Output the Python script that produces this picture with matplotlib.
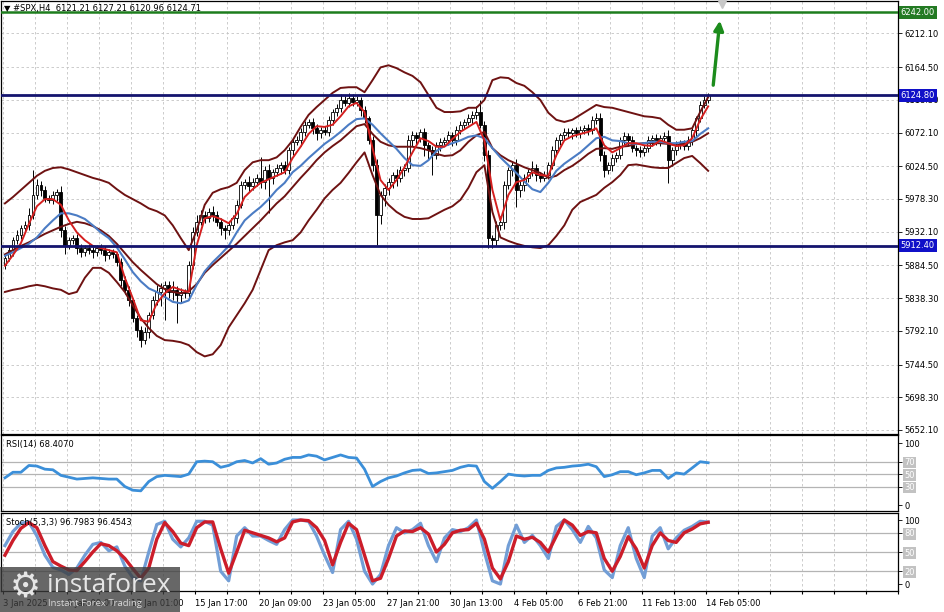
import numpy as np
import matplotlib
matplotlib.use("Agg")
import matplotlib.pyplot as plt
from matplotlib.patches import Rectangle

# ---- values: #SPX H4, 3 Jan - 14 Feb 2025 ----
closes = [
    5895, 5906, 5920, 5927, 5937, 5941, 5955, 5984, 5998, 5991,
    5980, 5977, 5984, 5988, 5934, 5913, 5920, 5923, 5909, 5903,
    5909, 5906, 5903, 5909, 5906, 5899, 5903, 5900, 5889, 5864,
    5850, 5835, 5810, 5793, 5779, 5790, 5814, 5835, 5847, 5852,
    5857, 5847, 5850, 5843, 5847, 5845, 5885, 5932, 5946, 5955,
    5951, 5960, 5955, 5946, 5937, 5934, 5941, 5951, 5970, 5998,
    6002, 5996, 6002, 6008, 6002, 6019, 6008, 6016, 6022, 6026,
    6019, 6047, 6059, 6061, 6073, 6083, 6087, 6078, 6071, 6075,
    6073, 6090, 6101, 6107, 6118, 6114, 6121, 6115, 6118, 6104,
    6092, 6061, 6026, 5955, 5984, 5994, 6002, 6012, 6008, 6019,
    6022, 6061, 6068, 6064, 6073, 6054, 6047, 6040, 6054, 6059,
    6061, 6068, 6061, 6075, 6083, 6087, 6092, 6097, 6101, 6083,
    6040, 5923, 5920, 5941, 5946, 5998, 6019, 6026, 5991, 5998,
    6008, 6016, 6022, 6012, 6008, 6012, 6026, 6047, 6061, 6068,
    6073, 6071, 6075, 6071, 6075, 6078, 6075, 6090, 6092, 6040,
    6019, 6026, 6036, 6040, 6061, 6067, 6061, 6050, 6047, 6044,
    6050, 6061, 6064, 6059, 6064, 6067, 6033, 6047, 6054, 6057,
    6053, 6061, 6075, 6092, 6111, 6118, 6124.71,
]
# wick length above / below the candle body, in points
upper_wick = [
    5, 6, 4, 8, 5, 6, 10, 35, 8, 6,
    5, 4, 6, 5, 8, 6, 5, 4, 6, 5,
    4, 6, 5, 4, 5, 6, 4, 5, 4, 6,
    5, 6, 4, 5, 6, 8, 5, 6, 10, 8,
    6, 5, 12, 6, 5, 4, 6, 7, 10, 8,
    6, 5, 8, 6, 5, 4, 6, 5, 7, 6,
    5, 8, 6, 5, 29, 6, 8, 5, 6, 5,
    6, 4, 5, 6, 5, 6, 4, 5, 6, 5,
    6, 5, 4, 6, 8, 6, 7, 5, 6, 4,
    5, 4, 6, 8, 6, 5, 6, 5, 8, 6,
    5, 8, 6, 5, 4, 6, 5, 6, 5, 6,
    5, 6, 5, 6, 5, 4, 6, 5, 8, 17,
    6, 8, 5, 6, 8, 6, 5, 6, 8, 5,
    6, 5, 10, 6, 5, 6, 5, 6, 5, 4,
    5, 6, 4, 5, 6, 5, 6, 5, 7, 7,
    6, 5, 6, 4, 5, 6, 5, 6, 5, 6,
    5, 6, 5, 6, 5, 6, 8, 5, 6, 4,
    5, 6, 5, 4, 6, 5, 3,
]
lower_wick = [
    6, 5, 8, 6, 5, 4, 6, 5, 6, 8,
    6, 5, 6, 8, 10, 12, 6, 5, 8, 6,
    5, 6, 8, 5, 6, 8, 6, 5, 6, 8,
    6, 8, 6, 10, 10, 6, 8, 5, 6, 20,
    45, 8, 12, 40, 10, 6, 8, 5, 6, 5,
    6, 5, 8, 6, 10, 12, 6, 5, 6, 5,
    6, 8, 5, 6, 8, 10, 50, 8, 6, 8,
    6, 5, 6, 5, 8, 6, 5, 8, 10, 6,
    5, 6, 8, 5, 6, 5, 6, 5, 6, 8,
    6, 5, 8, 42, 12, 15, 10, 8, 12, 6,
    8, 6, 8, 10, 6, 15, 12, 28, 6, 8,
    5, 6, 8, 6, 5, 6, 5, 8, 6, 5,
    8, 14, 11, 8, 6, 10, 6, 8, 24, 10,
    8, 6, 5, 8, 6, 5, 6, 5, 8, 6,
    5, 6, 8, 5, 6, 5, 6, 5, 6, 8,
    10, 6, 8, 6, 5, 6, 8, 6, 8, 6,
    5, 6, 8, 5, 6, 5, 32, 8, 6, 5,
    6, 5, 6, 8, 5, 4, 4,
]
# H4 bars run back to back: each one opens at the previous close
opens = [5885] + closes[:-1]

# indicator lines, read every second bar
line_bars = list(range(0, 177, 2))
bb_upper = [
    5972, 5981, 5991, 6001, 6011, 6018, 6022, 6023, 6020, 6016,
    6012, 6008, 6005, 6001, 5992, 5984, 5978, 5972, 5965, 5961,
    5955, 5941, 5923, 5906, 5934, 5970, 5987, 5992, 5995, 6001,
    6019, 6030, 6033, 6033, 6037, 6047, 6061, 6080, 6097, 6108,
    6118, 6128, 6135, 6136, 6136, 6129, 6146, 6164, 6167, 6163,
    6157, 6152, 6143, 6125, 6107, 6101, 6101, 6102, 6107, 6107,
    6118, 6146, 6150, 6149, 6142, 6138, 6129, 6118, 6100, 6090,
    6087, 6090, 6097, 6104, 6111, 6108, 6107, 6104, 6101, 6098,
    6095, 6094, 6092, 6083, 6076, 6076, 6078, 6101, 6122,
]
bb_middle = [
    5900, 5906, 5912, 5917, 5923, 5929, 5934, 5939, 5943, 5946,
    5944, 5940, 5934, 5926, 5915, 5902, 5889, 5878, 5868, 5858,
    5851, 5847, 5845, 5848, 5858, 5874, 5885, 5895, 5905, 5915,
    5926, 5937, 5948, 5960, 5972, 5982, 5995, 6008, 6020, 6033,
    6044, 6053, 6061, 6071, 6081, 6084, 6070, 6059, 6054, 6052,
    6052, 6052, 6050, 6047, 6042, 6039, 6040, 6047, 6059, 6068,
    6073, 6050, 6040, 6033, 6028, 6023, 6019, 6015, 6008, 6011,
    6019, 6025, 6033, 6042, 6049, 6050, 6049, 6052, 6053, 6056,
    6057, 6057, 6057, 6056, 6054, 6056, 6059, 6064, 6071,
]
bb_lower = [
    5847, 5850, 5852, 5855, 5857, 5855, 5852, 5850, 5844, 5847,
    5867, 5881, 5881, 5874, 5861, 5847, 5828, 5810, 5796, 5785,
    5779, 5778, 5776, 5772, 5762, 5756, 5759, 5772, 5797, 5814,
    5831, 5850, 5878, 5906, 5913, 5917, 5920, 5931, 5948, 5963,
    5979, 5991, 6001, 6015, 6030, 6044, 6012, 5984, 5970, 5960,
    5953, 5950, 5950, 5951, 5957, 5963, 5968, 5977, 5994, 6016,
    6026, 5960, 5924, 5919, 5915, 5912, 5910, 5909, 5913, 5926,
    5941, 5963, 5974, 5979, 5984, 5994, 6002, 6012, 6026, 6027,
    6025, 6023, 6022, 6022, 6029, 6036, 6039, 6029, 6018,
]
ma_fast = [
    5884, 5899, 5916, 5943, 5968, 5978, 5978, 5970, 5948, 5931,
    5920, 5912, 5909, 5906, 5903, 5867, 5838, 5807, 5805, 5831,
    5845, 5854, 5850, 5847, 5913, 5951, 5954, 5950, 5944, 5957,
    5981, 5992, 6001, 6006, 6011, 6016, 6036, 6052, 6070, 6081,
    6080, 6083, 6095, 6109, 6114, 6101, 6050, 6005, 5991, 6005,
    6023, 6044, 6064, 6060, 6052, 6052, 6063, 6073, 6080, 6087,
    6061, 5991, 5948, 5984, 6002, 6005, 6016, 6012, 6011, 6040,
    6061, 6067, 6070, 6073, 6078, 6054, 6044, 6050, 6057, 6057,
    6054, 6053, 6061, 6057, 6053, 6054, 6064, 6090, 6109,
]
ma_slow = [
    5898, 5903, 5909, 5915, 5924, 5937, 5948, 5958, 5958, 5955,
    5950, 5941, 5931, 5923, 5910, 5893, 5875, 5862, 5852, 5847,
    5840, 5833, 5831, 5835, 5857, 5876, 5889, 5900, 5912, 5931,
    5948, 5958, 5967, 5978, 5991, 6001, 6016, 6025, 6036, 6046,
    6056, 6064, 6073, 6083, 6091, 6092, 6083, 6071, 6060, 6049,
    6036, 6026, 6025, 6033, 6046, 6053, 6057, 6061, 6066, 6068,
    6064, 6050, 6037, 6026, 6015, 6003, 5992, 5988, 6001, 6018,
    6028, 6036, 6044, 6054, 6064, 6066, 6061, 6060, 6057, 6056,
    6057, 6059, 6059, 6057, 6057, 6059, 6060, 6070, 6078,
]
rsi = [
    44, 53, 53, 64, 63, 58, 57, 48, 45, 42,
    43, 44, 43, 42, 42, 30, 24, 23, 38, 46,
    48, 47, 46, 50, 70, 71, 70, 61, 64, 70,
    72, 68, 75, 66, 68, 74, 77, 77, 81, 79,
    73, 77, 81, 77, 76, 58, 30, 38, 44, 47,
    52, 56, 57, 51, 52, 54, 56, 61, 64, 63,
    38, 27, 38, 50, 48, 47, 48, 48, 56, 60,
    61, 63, 64, 66, 62, 46, 49, 54, 54, 49,
    52, 56, 56, 43, 52, 50, 60, 70, 68.4,
]
stoch_k = [
    60, 82, 95, 97, 75, 45, 26, 22, 15, 25,
    45, 62, 65, 52, 58, 28, 10, 5, 50, 93,
    98, 70, 58, 72, 98, 98, 92, 20, 5, 75,
    88, 75, 75, 68, 62, 85, 100, 100, 98, 75,
    45, 18, 85, 98, 70, 20, 0, 15, 60, 88,
    80, 85, 95, 60, 35, 72, 85, 82, 88, 100,
    50, 5, 0, 60, 92, 65, 76, 60, 40, 90,
    100, 85, 65, 90, 72, 22, 10, 60, 88, 40,
    10, 75, 88, 55, 72, 84, 90, 98, 96.8,
]
stoch_d = [
    45, 68, 87, 96, 88, 60, 35, 28, 22, 21,
    35, 50, 63, 60, 52, 40, 24, 9, 25, 70,
    96, 82, 64, 60, 88, 97, 97, 55, 17, 50,
    84, 80, 76, 72, 66, 72, 97, 100, 99, 88,
    68, 30, 65, 95, 85, 45, 5, 9, 40, 75,
    83, 82, 88, 78, 50, 62, 80, 84, 85, 95,
    70, 25, 8, 35, 75, 70, 73, 65, 50, 75,
    100, 92, 76, 82, 80, 40, 20, 43, 74, 55,
    25, 60, 80, 68, 65, 80, 86, 94, 96.45,
]

price_ticks = [6212.10, 6164.50, 6118.30, 6072.10, 6024.50, 5978.30, 5932.10,
               5884.50, 5838.30, 5792.10, 5744.50, 5698.30, 5652.10]
date_labels = ["3 Jan 2025", "8 Jan 09:00", "13 Jan 01:00", "15 Jan 17:00",
               "20 Jan 09:00", "23 Jan 05:00", "27 Jan 21:00", "30 Jan 13:00",
               "4 Feb 05:00", "6 Feb 21:00", "11 Feb 13:00", "14 Feb 05:00"]
target_level = 6242.00
resistance = 6124.80
support = 5912.40

plt.rcParams['font.family'] = ['DejaVu Sans']
FS = 6

W, H = 945, 612
fig = plt.figure(figsize=(W / 100, H / 100), dpi=100)
fig.patch.set_facecolor('white')


def px(x, y):
    return x / W, 1 - y / H


ax = fig.add_axes([0.001, 0.2908, 0.9492, 0.7082])
ax_rsi = fig.add_axes([0.001, 0.1650, 0.9492, 0.1234])
ax_st = fig.add_axes([0.001, 0.0343, 0.9492, 0.1275])

grid_x = np.arange(-0.5, 224, 8)
dash = (0, (3, 3))
for a in (ax, ax_rsi, ax_st):
    a.set_xlim(-1, 223.5)
    a.set_xticks(grid_x)
    a.grid(axis='x', color='#c4c4c4', linestyle=dash, linewidth=0.6)
    a.tick_params(axis='x', length=0, labelbottom=False)
    a.yaxis.tick_right()
    a.tick_params(axis='y', direction='out', length=3, width=0.6, pad=1.5,
                  labelsize=FS)
    for s in a.spines.values():
        s.set_linewidth(0.9)
        s.set_color('black')
    a.set_axisbelow(True)

# ---- price panel ----
o = np.array(opens, dtype=float)
c = np.array(closes, dtype=float)
idx = np.arange(len(c))
hi = np.maximum(o, c) + np.array(upper_wick)
lo = np.minimum(o, c) - np.array(lower_wick)
ax.vlines(idx, lo, hi, color='black', linewidth=0.7, zorder=3)
ax.bar(idx, np.maximum(np.abs(c - o), 0.8), bottom=np.minimum(o, c), width=0.7,
       color=np.where(c >= o, 'white', 'black'), edgecolor='black',
       linewidth=0.6, zorder=4)

band_col = '#6e1212'
ax.plot(line_bars, bb_upper, color=band_col, lw=1.4, zorder=5)
ax.plot(line_bars, bb_middle, color=band_col, lw=1.4, zorder=5)
ax.plot(line_bars, bb_lower, color=band_col, lw=1.4, zorder=5)
ax.plot(line_bars, ma_slow, color='#4b7cc4', lw=1.5, zorder=6)
ax.plot(line_bars, ma_fast, color='#d41f1f', lw=1.4, zorder=7)

ax.axhline(target_level, color='#1d7d1d', lw=1.8, zorder=8)
ax.axhline(resistance, color='#14146e', lw=2, zorder=8)
ax.axhline(support, color='#14146e', lw=2, zorder=8)

ax.set_ylim(5646.4, 6258.3)
ax.set_yticks(price_ticks)
ax.set_yticklabels([f"{v:.2f}" for v in price_ticks])
ax.grid(axis='y', color='#c4c4c4', linestyle=dash, linewidth=0.6)

ytr = ax.get_yaxis_transform()
for lvl, fc in ((target_level, '#237a23'), (resistance, '#1010c8'),
                (support, '#1010c8')):
    ax.text(1.003, lvl, f"{lvl:.2f}", transform=ytr, ha='left', va='center',
            fontsize=FS, color='white', clip_on=False, zorder=20,
            bbox=dict(boxstyle='square,pad=0.25', fc=fc, ec='none'))

# breakout arrow and the chart-shift marker
ax.annotate('', xy=(179.0, 6234), xytext=(177.2, 6135),
            arrowprops=dict(arrowstyle='-|>', color='#1c8c1c', lw=2.4,
                            mutation_scale=14), zorder=9)
ax.plot([179.5], [6254], marker='v', color='#c8c8c8', ms=6, clip_on=False,
        zorder=9)

fig.text(*px(4, 8), "\u25bc #SPX,H4  6121.21 6127.21 6120.96 6124.71",
         fontsize=FS, va='center', ha='left')

# ---- RSI panel ----
ax_rsi.set_ylim(-9.6, 112.4)
ax_rsi.plot(line_bars, rsi, color='#3b8fd9', lw=2.0, zorder=5)
for lvl in (30, 50, 70):
    ax_rsi.axhline(lvl, color='#b4b4b4', lw=0.9, zorder=1)
ax_rsi.set_yticks([0, 30, 50, 70, 100])
ax_rsi.set_yticklabels(['0', '30', '50', '70', '100'])
fig.text(*px(6, 444), "RSI(14) 68.4070", fontsize=FS, va='center', ha='left')

# ---- Stochastic panel ----
ax_st.set_ylim(-10.9, 111)
ax_st.plot(line_bars, stoch_k, color='#729ed6', lw=2.3, zorder=5)
ax_st.plot(line_bars, stoch_d, color='#cc1d2a', lw=2.4, zorder=6)
for lvl in (20, 50, 80):
    ax_st.axhline(lvl, color='#b4b4b4', lw=0.9, zorder=1)
ax_st.set_yticks([0, 20, 50, 80, 100])
ax_st.set_yticklabels(['0', '20', '50', '80', '100'])
fig.text(*px(6, 522), "Stoch(5,3,3) 96.7983 96.4543", fontsize=FS,
         va='center', ha='left')

for a, levels in ((ax_rsi, ('30', '50', '70')), (ax_st, ('20', '50', '80'))):
    for lab in a.get_yticklabels():
        if lab.get_text() in levels:
            lab.set_color('white')
            lab.set_bbox(dict(boxstyle='square,pad=0.15', fc='#c2c2c2',
                              ec='none'))

tick_text = [''] * len(grid_x)
for k, lab in enumerate(date_labels):
    tick_text[2 * k] = lab
ax_st.set_xticklabels(tick_text, ha='left', fontsize=FS)
ax_st.tick_params(axis='x', labelbottom=True, length=2, pad=4)

# ---- watermark ----
fig.add_artist(Rectangle((0, 0), 180 / W, 45 / H, transform=fig.transFigure,
                         facecolor='#3c3c3c', alpha=0.78, edgecolor='none',
                         zorder=20))
fig.text(*px(25, 588), "\u2699", fontsize=25, color='#e6e6e6', ha='center',
         va='center', zorder=21)
fig.text(*px(47, 586), "instaforex", fontsize=19, color='#e6e6e6',
         family='Open Sans', ha='left', va='center', zorder=21)
fig.text(*px(48, 604), "Instant Forex Trading", fontsize=6.8,
         color='#d8d8d8', family='Open Sans', ha='left', va='center',
         zorder=21)

fig.savefig('out.png', dpi=100, facecolor='white')
